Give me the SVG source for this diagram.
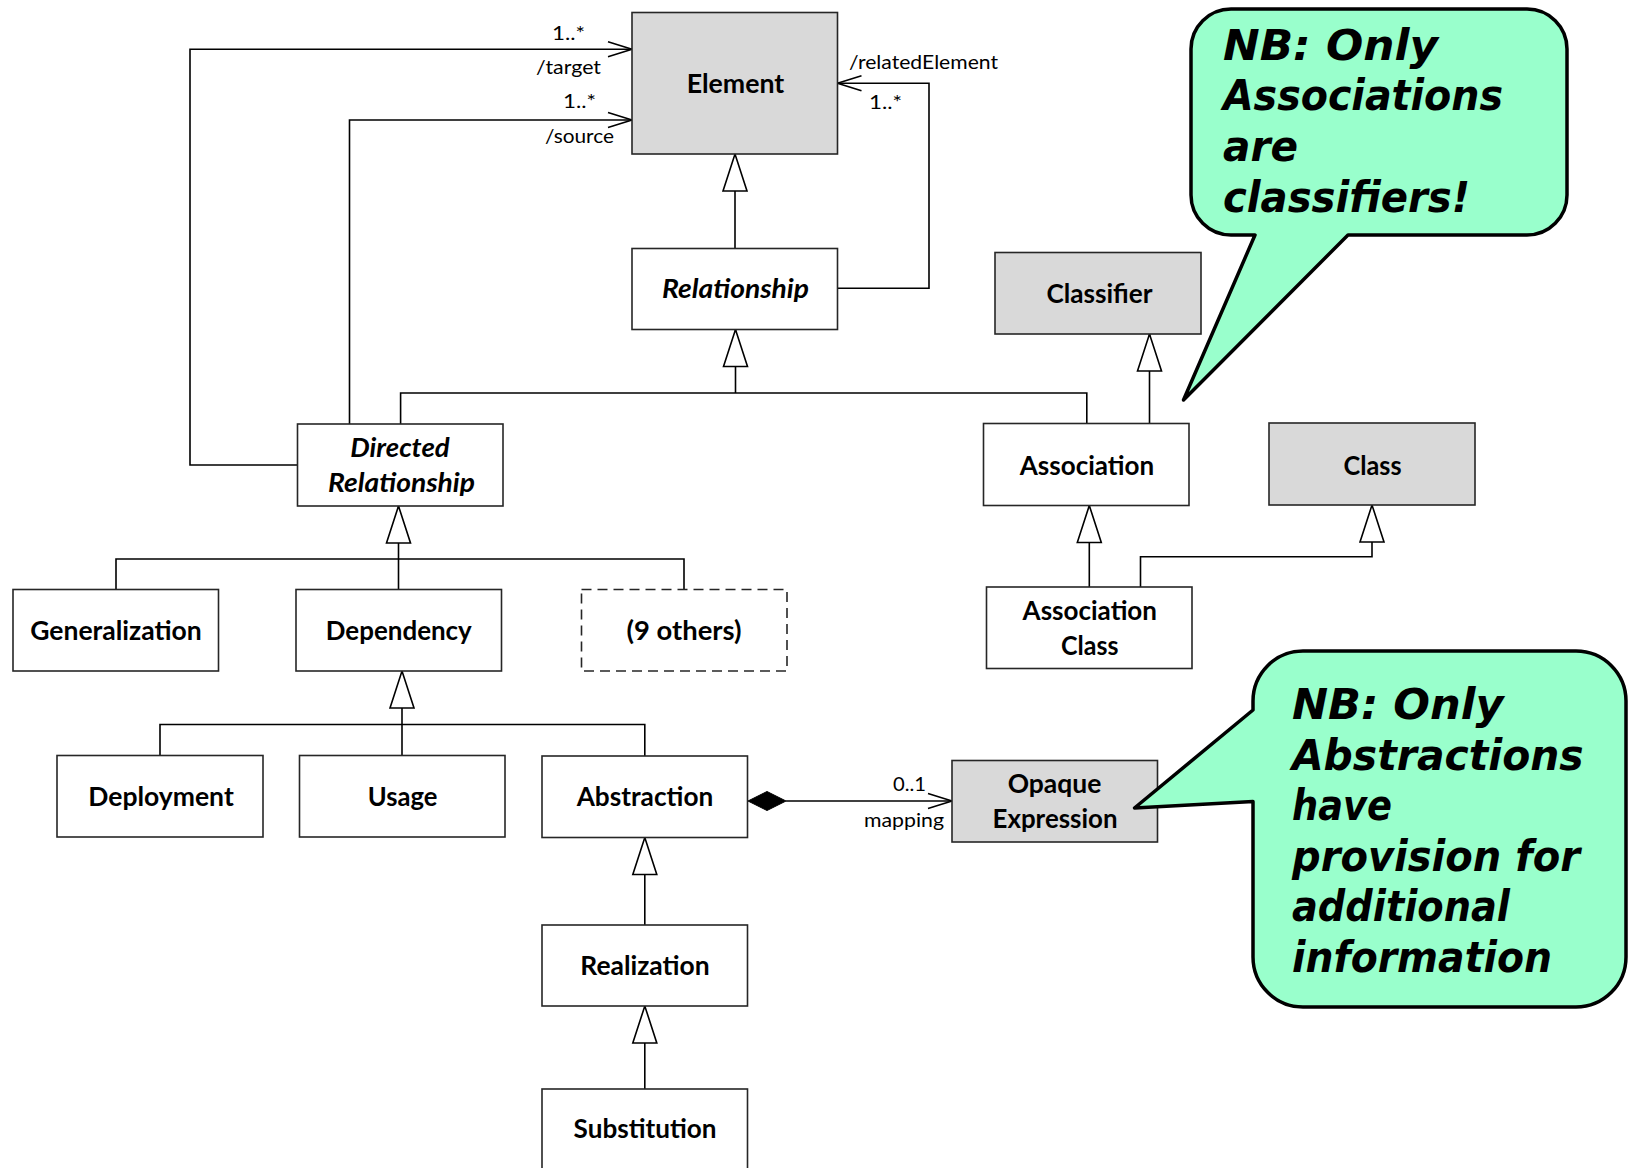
<svg xmlns="http://www.w3.org/2000/svg" width="1629" height="1168" viewBox="0 0 1629 1168">
  <style>
    .box { fill: #ffffff; stroke: #262626; stroke-width: 1.6; }
    .grey { fill: #d9d9d9; }
    .dashed { stroke-dasharray: 10 6; }
    .lbl { font-family: Lato, "Liberation Sans", sans-serif; font-weight: bold; font-size: 26px; fill: #000; text-anchor: middle; }
    .it { font-style: italic; }
    .small { font-family: Lato, "Liberation Sans", sans-serif; font-size: 20px; fill: #000; }
    .wire { fill: none; stroke: #000; stroke-width: 1.6; }
    .bubble { fill: #99ffcc; stroke: #000; stroke-width: 3.5; stroke-linejoin: round; }
    .note { font-family: "DejaVu Sans", "Noto Sans", sans-serif; font-weight: bold; font-style: oblique; font-size: 42px; fill: #000; }
  </style>
  <defs>
    <!-- hollow generalization triangle, apex at path end -->
    <marker id="gen" markerUnits="userSpaceOnUse" markerWidth="42" markerHeight="30" refX="38" refY="13" orient="auto" overflow="visible">
      <path d="M1,1 L38,13 L1,25 Z" fill="#fff" stroke="#000" stroke-width="1.6"/>
    </marker>
    <!-- open navigability arrow -->
    <marker id="open" markerUnits="userSpaceOnUse" markerWidth="28" markerHeight="20" refX="24" refY="8" orient="auto" overflow="visible">
      <path d="M0,0.5 L24,8 L0,15.5" fill="none" stroke="#000" stroke-width="1.6"/>
    </marker>
  </defs>

  <rect width="1629" height="1168" fill="#ffffff"/>

  <!-- connectors -->
  <g id="connectors">
    <path class="wire" d="M297.5,465 H190 V49.3 H632" marker-end="url(#open)"/>
    <path class="wire" d="M349.5,424 V120 H632" marker-end="url(#open)"/>
    <path class="wire" d="M837.5,288.3 H929 V83.3 H837.5" marker-end="url(#open)"/>
    <path class="wire" d="M735,248.5 V154" marker-end="url(#gen)"/>
    <path class="wire" d="M400.6,424 V393 H1086.8 V423.5"/>
    <path class="wire" d="M735.5,393 V329.5" marker-end="url(#gen)"/>
    <path class="wire" d="M1149.5,427 V334" marker-end="url(#gen)"/>
    <path class="wire" d="M116,589.5 V559 H684 V589.5"/>
    <path class="wire" d="M398.5,589.5 V506" marker-end="url(#gen)"/>
    <path class="wire" d="M160,755.5 V724.5 H644.8 V756"/>
    <path class="wire" d="M402,755.5 V671" marker-end="url(#gen)"/>
    <path class="wire" d="M644.8,925 V837.5" marker-end="url(#gen)"/>
    <path class="wire" d="M644.8,1089 V1006" marker-end="url(#gen)"/>
    <path class="wire" d="M1089.3,587 V505.5" marker-end="url(#gen)"/>
    <path class="wire" d="M1140.5,587 V556.7 H1372 V505" marker-end="url(#gen)"/>
    <polygon points="748,801 767,791.5 786,801 767,810.5" fill="#000" stroke="#000" stroke-width="1"/>
    <path class="wire" d="M786,801 H952" marker-end="url(#open)"/>
    <!-- role names and multiplicities -->
    <text class="small" x="552" y="40" textLength="33" lengthAdjust="spacingAndGlyphs">1..*</text>
    <text class="small" x="536" y="74" textLength="65" lengthAdjust="spacingAndGlyphs">/target</text>
    <text class="small" x="563" y="108" textLength="33" lengthAdjust="spacingAndGlyphs">1..*</text>
    <text class="small" x="545" y="143" textLength="69" lengthAdjust="spacingAndGlyphs">/source</text>
    <text class="small" x="849" y="69" textLength="149" lengthAdjust="spacingAndGlyphs">/relatedElement</text>
    <text class="small" x="869" y="109" textLength="33" lengthAdjust="spacingAndGlyphs">1..*</text>
    <text class="small" x="893" y="791" textLength="33" lengthAdjust="spacingAndGlyphs">0..1</text>
    <text class="small" x="864" y="827" textLength="80" lengthAdjust="spacingAndGlyphs">mapping</text>
  </g>

  <!-- classes -->
  <g id="element">
    <rect class="box grey" x="632" y="12.5" width="205.5" height="141.5"/>
    <text class="lbl" x="735.5" y="93" textLength="97.6" lengthAdjust="spacingAndGlyphs">Element</text>
  </g>
  <g id="relationship">
    <rect class="box" x="632" y="248.5" width="205.5" height="81"/>
    <text class="lbl it" x="735.5" y="298" textLength="147" lengthAdjust="spacingAndGlyphs">Relationship</text>
  </g>
  <g id="classifier">
    <rect class="box grey" x="995" y="252.5" width="206" height="81.5"/>
    <text class="lbl" x="1099.5" y="303" textLength="106" lengthAdjust="spacingAndGlyphs">Classifier</text>
  </g>
  <g id="directed-relationship">
    <rect class="box" x="297.5" y="424" width="205.5" height="82"/>
    <text class="lbl it" x="400" y="456.5" textLength="99.4" lengthAdjust="spacingAndGlyphs">Directed</text>
    <text class="lbl it" x="401.5" y="491.5" textLength="147" lengthAdjust="spacingAndGlyphs">Relationship</text>
  </g>
  <g id="association">
    <rect class="box" x="983.5" y="423.5" width="205.5" height="82"/>
    <text class="lbl" x="1087" y="474.5" textLength="134.5" lengthAdjust="spacingAndGlyphs">Association</text>
  </g>
  <g id="class">
    <rect class="box grey" x="1269" y="423" width="206" height="82"/>
    <text class="lbl" x="1372.5" y="474.5" textLength="58" lengthAdjust="spacingAndGlyphs">Class</text>
  </g>
  <g id="generalization">
    <rect class="box" x="13" y="589.5" width="205.5" height="81.5"/>
    <text class="lbl" x="116" y="640" textLength="171.6" lengthAdjust="spacingAndGlyphs">Generalization</text>
  </g>
  <g id="dependency">
    <rect class="box" x="296" y="589.5" width="205.5" height="81.5"/>
    <text class="lbl" x="398.8" y="640" textLength="146" lengthAdjust="spacingAndGlyphs">Dependency</text>
  </g>
  <g id="others">
    <rect class="box dashed" x="581.5" y="589.5" width="205.5" height="81.5"/>
    <text class="lbl" x="684" y="640" textLength="115" lengthAdjust="spacingAndGlyphs">(9 others)</text>
  </g>
  <g id="association-class">
    <rect class="box" x="986.5" y="587" width="205.5" height="81.5"/>
    <text class="lbl" x="1089.8" y="620" textLength="134.4" lengthAdjust="spacingAndGlyphs">Association</text>
    <text class="lbl" x="1089.7" y="655" textLength="57.4" lengthAdjust="spacingAndGlyphs">Class</text>
  </g>
  <g id="deployment">
    <rect class="box" x="57" y="755.5" width="206" height="81.5"/>
    <text class="lbl" x="161" y="806" textLength="145.5" lengthAdjust="spacingAndGlyphs">Deployment</text>
  </g>
  <g id="usage">
    <rect class="box" x="299.5" y="755.5" width="205.5" height="81.5"/>
    <text class="lbl" x="402.6" y="806" textLength="69.6" lengthAdjust="spacingAndGlyphs">Usage</text>
  </g>
  <g id="abstraction">
    <rect class="box" x="542" y="756" width="205.5" height="81.5"/>
    <text class="lbl" x="645" y="806" textLength="136.6" lengthAdjust="spacingAndGlyphs">Abstraction</text>
  </g>
  <g id="opaque-expression">
    <rect class="box grey" x="952" y="760.5" width="205.5" height="81.5"/>
    <text class="lbl" x="1054.5" y="793" textLength="93.7" lengthAdjust="spacingAndGlyphs">Opaque</text>
    <text class="lbl" x="1055" y="828" textLength="125" lengthAdjust="spacingAndGlyphs">Expression</text>
  </g>
  <g id="realization">
    <rect class="box" x="542" y="925" width="205.5" height="81"/>
    <text class="lbl" x="645" y="975" textLength="129.4" lengthAdjust="spacingAndGlyphs">Realization</text>
  </g>
  <g id="substitution">
    <rect class="box" x="542" y="1089" width="205.5" height="82"/>
    <text class="lbl" x="645" y="1138" textLength="142.8" lengthAdjust="spacingAndGlyphs">Substitution</text>
  </g>

  <!-- annotation balloons -->
  <g id="note-associations">
    <path class="bubble" d="M1231,9 H1527 A40,40 0 0 1 1567,49 V195 A40,40 0 0 1 1527,235 H1348 L1183.5,400 L1255,235 H1231 A40,40 0 0 1 1191,195 V49 A40,40 0 0 1 1231,9 Z"/>
    <text class="note" x="1223" y="60" textLength="215" lengthAdjust="spacingAndGlyphs">NB:  Only</text>
    <text class="note" x="1223" y="110" textLength="280" lengthAdjust="spacingAndGlyphs">Associations</text>
    <text class="note" x="1223" y="161" textLength="75" lengthAdjust="spacingAndGlyphs">are</text>
    <text class="note" x="1223" y="212" textLength="247" lengthAdjust="spacingAndGlyphs">classifiers!</text>
  </g>
  <g id="note-abstractions">
    <path class="bubble" d="M1303,651 H1576 A50,50 0 0 1 1626,701 V957 A50,50 0 0 1 1576,1007 H1303 A50,50 0 0 1 1253,957 V801.5 L1134.5,808 L1253,710 V701 A50,50 0 0 1 1303,651 Z"/>
    <text class="note" x="1292" y="719" textLength="211.6" lengthAdjust="spacingAndGlyphs">NB: Only</text>
    <text class="note" x="1292" y="769.5" textLength="291.7" lengthAdjust="spacingAndGlyphs">Abstractions</text>
    <text class="note" x="1292" y="820" textLength="100" lengthAdjust="spacingAndGlyphs">have</text>
    <text class="note" x="1292" y="870.5" textLength="288" lengthAdjust="spacingAndGlyphs">provision for</text>
    <text class="note" x="1292" y="921" textLength="218" lengthAdjust="spacingAndGlyphs">additional</text>
    <text class="note" x="1292" y="971.5" textLength="260" lengthAdjust="spacingAndGlyphs">information</text>
  </g>
</svg>
